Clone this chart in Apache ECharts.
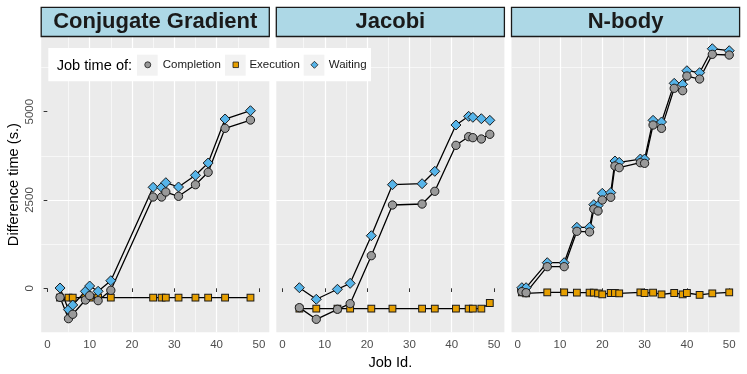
<!DOCTYPE html>
<html lang="en">
<head>
<meta charset="UTF-8">
<title>Difference time per job</title>
<script src="https://cdn.jsdelivr.net/npm/echarts@6/dist/echarts.min.js"></script>
<style>
  html, body { margin: 0; padding: 0; background: #fff; }
  #chart { width: 747px; height: 374px; }
</style>
</head>
<body>
<div id="chart"></div>
<script>
// facet names
var panels = ['Conjugate Gradient', 'Jacobi', 'N-body'];

// Conjugate Gradient
var cgJobs       = [3, 5, 6, 9, 10, 12, 15, 25, 27, 28, 31, 35, 38, 42, 48];
var cgCompletion = [-255, -860, -736, -331, -208, -350, -57, 2584, 2584, 2726, 2604, 2933, 3284, 4529, 4764];
var cgExecution  = [-262, -262, -265, -262, -265, -263, -265, -265, -266, -265, -265, -266, -265, -264, -265];
var cgWaiting    = [8, -606, -473, -85, 65, -85, 215, 2859, 2859, 2990, 2868, 3199, 3547, 4793, 5028];

// Jacobi
var jaJobs       = [4, 8, 13, 16, 21, 26, 33, 36, 41, 44, 45, 47, 49];
var jaCompletion = [-548, -878, -595, -435, 923, 2358, 2386, 2746, 4048, 4292, 4264, 4227, 4360];
var jaExecution  = [-577, -577, -577, -577, -577, -577, -577, -577, -577, -577, -577, -577, -416];
var jaWaiting    = [17, -311, -28, 141, 1489, 2933, 2961, 3312, 4623, 4869, 4841, 4801, 4756];

// N-body
var nbJobs       = [1, 2, 7, 11, 14, 17, 18, 19, 20, 22, 23, 24, 29, 30, 32, 34, 37, 39, 40, 43, 46, 50];
var nbCompletion = [-95, -125, 612, 612, 1614, 1595, 2245, 2189, 2500, 2576, 3462, 3415, 3556, 3538, 4623, 4529, 5662, 5595, 6010, 5925, 6624, 6605];
var nbExecution  = [-112, -142, -113, -113, -125, -125, -125, -142, -170, -133, -133, -142, -113, -133, -125, -170, -133, -170, -133, -189, -142, -113];
var nbWaiting    = [17, 17, 725, 725, 1727, 1727, 2368, 2340, 2689, 2708, 3604, 3566, 3660, 3660, 4756, 4708, 5803, 5775, 6160, 6104, 6783, 6727];

// tick labels and axis limits
var xTicks = [0, 10, 20, 30, 40, 50];
var yTicks = [0, 2500, 5000];
var xLimits = [-1.45, 52.45];
var yLimits = [-1246, 7115];

var panelData = [
    {jobs: cgJobs, Completion: cgCompletion, Execution: cgExecution, Waiting: cgWaiting},
    {jobs: jaJobs, Completion: jaCompletion, Execution: jaExecution, Waiting: jaWaiting},
    {jobs: nbJobs, Completion: nbCompletion, Execution: nbExecution, Waiting: nbWaiting}
];

// look of each job time type (drawing order: execution, waiting, completion)
var kinds = [
    {name: 'Execution',  symbol: 'rect',    size: 6.8, color: '#E69F00'},
    {name: 'Waiting',    symbol: 'diamond', size: 10,  color: '#56B4E9'},
    {name: 'Completion', symbol: 'circle',  size: 8.3, color: '#999999'}
];

var panelLeft = [41.2, 276.3, 511.5];
var panelWidth = 228.1;
var panelTop = 37;
var panelHeight = 295.3;

var chart = echarts.init(document.getElementById('chart'));

function pairs(xs, ys) {
    var out = [];
    for (var i = 0; i < xs.length; i++) out.push([xs[i], ys[i]]);
    return out;
}

var grids = [], xAxes = [], yAxes = [], series = [], graphics = [];

for (var p = 0; p < 3; p++) {
    grids.push({
        left: panelLeft[p], top: panelTop, width: panelWidth, height: panelHeight,
        show: true, backgroundColor: '#EBEBEB', borderWidth: 0,
        containLabel: false, outerBoundsMode: 'none'
    });
    xAxes.push({
        gridIndex: p, type: 'value', min: xLimits[0], max: xLimits[1],
        minInterval: 10, maxInterval: 10,
        name: p === 1 ? 'Job Id.' : '', nameLocation: 'middle', nameGap: 20,
        nameTextStyle: {fontFamily: 'Liberation Sans', fontSize: 14.6, color: '#000'},
        axisLine: {show: false},
        axisTick: {show: true, customValues: xTicks, length: 3.7, lineStyle: {color: '#333333', width: 1}},
        axisLabel: {customValues: xTicks, fontFamily: 'Liberation Sans', fontSize: 11.5, color: '#4D4D4D', margin: 6.5},
        splitLine: {show: true, showMinLine: false, showMaxLine: false, lineStyle: {color: '#FFFFFF', width: 1.2}},
        minorTick: {show: false, splitNumber: 2},
        minorSplitLine: {show: true, lineStyle: {color: '#FFFFFF', width: 0.6}}
    });
    yAxes.push({
        gridIndex: p, type: 'value', min: yLimits[0], max: yLimits[1],
        minInterval: 2500, maxInterval: 2500,
        name: p === 0 ? 'Difference time (s.)' : '', nameLocation: 'middle', nameGap: 20,
        nameTextStyle: {fontFamily: 'Liberation Sans', fontSize: 14.6, color: '#000'},
        axisLine: {show: false},
        axisTick: {show: p === 0, customValues: yTicks, length: 3.7, lineStyle: {color: '#333333', width: 1}},
        axisLabel: {
            show: p === 0, customValues: yTicks, rotate: 90, margin: 5,
            fontFamily: 'Liberation Sans', fontSize: 11.5, color: '#4D4D4D',
            formatter: function (v) { return String(v); }
        },
        splitLine: {show: true, showMinLine: false, showMaxLine: false, lineStyle: {color: '#FFFFFF', width: 1.2}},
        minorTick: {show: false, splitNumber: 2},
        minorSplitLine: {show: true, lineStyle: {color: '#FFFFFF', width: 0.6}}
    });

    var d = panelData[p];
    // lines first, all under the points
    kinds.forEach(function (k) {
        series.push({
            type: 'line', name: k.name + ' line', xAxisIndex: p, yAxisIndex: p,
            data: pairs(d.jobs, d[k.name]), symbol: 'none', silent: true,
            lineStyle: {color: '#000', width: 1.3}, z: 2
        });
    });
    kinds.forEach(function (k, i) {
        series.push({
            type: 'scatter', name: k.name, xAxisIndex: p, yAxisIndex: p,
            data: pairs(d.jobs, d[k.name]), symbol: k.symbol, symbolSize: k.size,
            itemStyle: {color: k.color, borderColor: '#1A1A1A', borderWidth: 1, opacity: 1},
            z: 3 + i
        });
    });

    // facet strip
    graphics.push({
        type: 'rect', z: 10,
        shape: {x: panelLeft[p], y: 7.3, width: panelWidth, height: 29.2},
        style: {fill: '#ADD8E6', stroke: '#1A1A1A', lineWidth: 1.3}
    });
    graphics.push({
        type: 'text', z: 11,
        x: panelLeft[p] + panelWidth / 2, y: 22.2,
        style: {text: panels[p], fill: '#1A1A1A', font: 'bold 22px "Liberation Sans"', align: 'center', verticalAlign: 'middle'}
    });
}

// legend box, key backgrounds and title
graphics.push({
    type: 'rect', z: 20,
    shape: {x: 48.3, y: 48, width: 322.7, height: 33.3},
    style: {fill: '#FFFFFF'}
});
var keyLeft = [137, 225, 303.7];
var keyWidth = 20.7;
keyLeft.forEach(function (kx) {
    graphics.push({
        type: 'rect', z: 21,
        shape: {x: kx, y: 54.7, width: keyWidth, height: 21},
        style: {fill: '#F2F2F2'}
    });
});
graphics.push({
    type: 'text', z: 21, x: 56.7, y: 65.5,
    style: {text: 'Job time of:', fill: '#000', font: '14.6px "Liberation Sans"', verticalAlign: 'middle'}
});

// one legend per key so each sits in its own box
var legendItems = [
    {name: 'Completion', icon: 'circle',  size: 6,   textX: 162.3},
    {name: 'Execution',  icon: 'rect',    size: 5.5, textX: 249},
    {name: 'Waiting',    icon: 'diamond', size: 7,   textX: 328.3}
];
var legends = legendItems.map(function (it, i) {
    var left = keyLeft[i] + keyWidth / 2 - it.size / 2;
    return {
        z: 30, left: left, top: 58.8, padding: 0,
        itemWidth: it.size, itemHeight: it.size, selectedMode: false,
        itemStyle: {borderWidth: 0.8},
        textStyle: {
            fontFamily: 'Liberation Sans', fontSize: 11.5, color: '#1A1A1A',
            padding: [0, 0, 0, it.textX - (left + it.size + 5)]
        },
        data: [{name: it.name, icon: it.icon}]
    };
});

var option = {
    animation: false,
    grid: grids,
    xAxis: xAxes,
    yAxis: yAxes,
    legend: legends,
    graphic: graphics,
    series: series
};

chart.setOption(option);
</script>
</body>
</html>
